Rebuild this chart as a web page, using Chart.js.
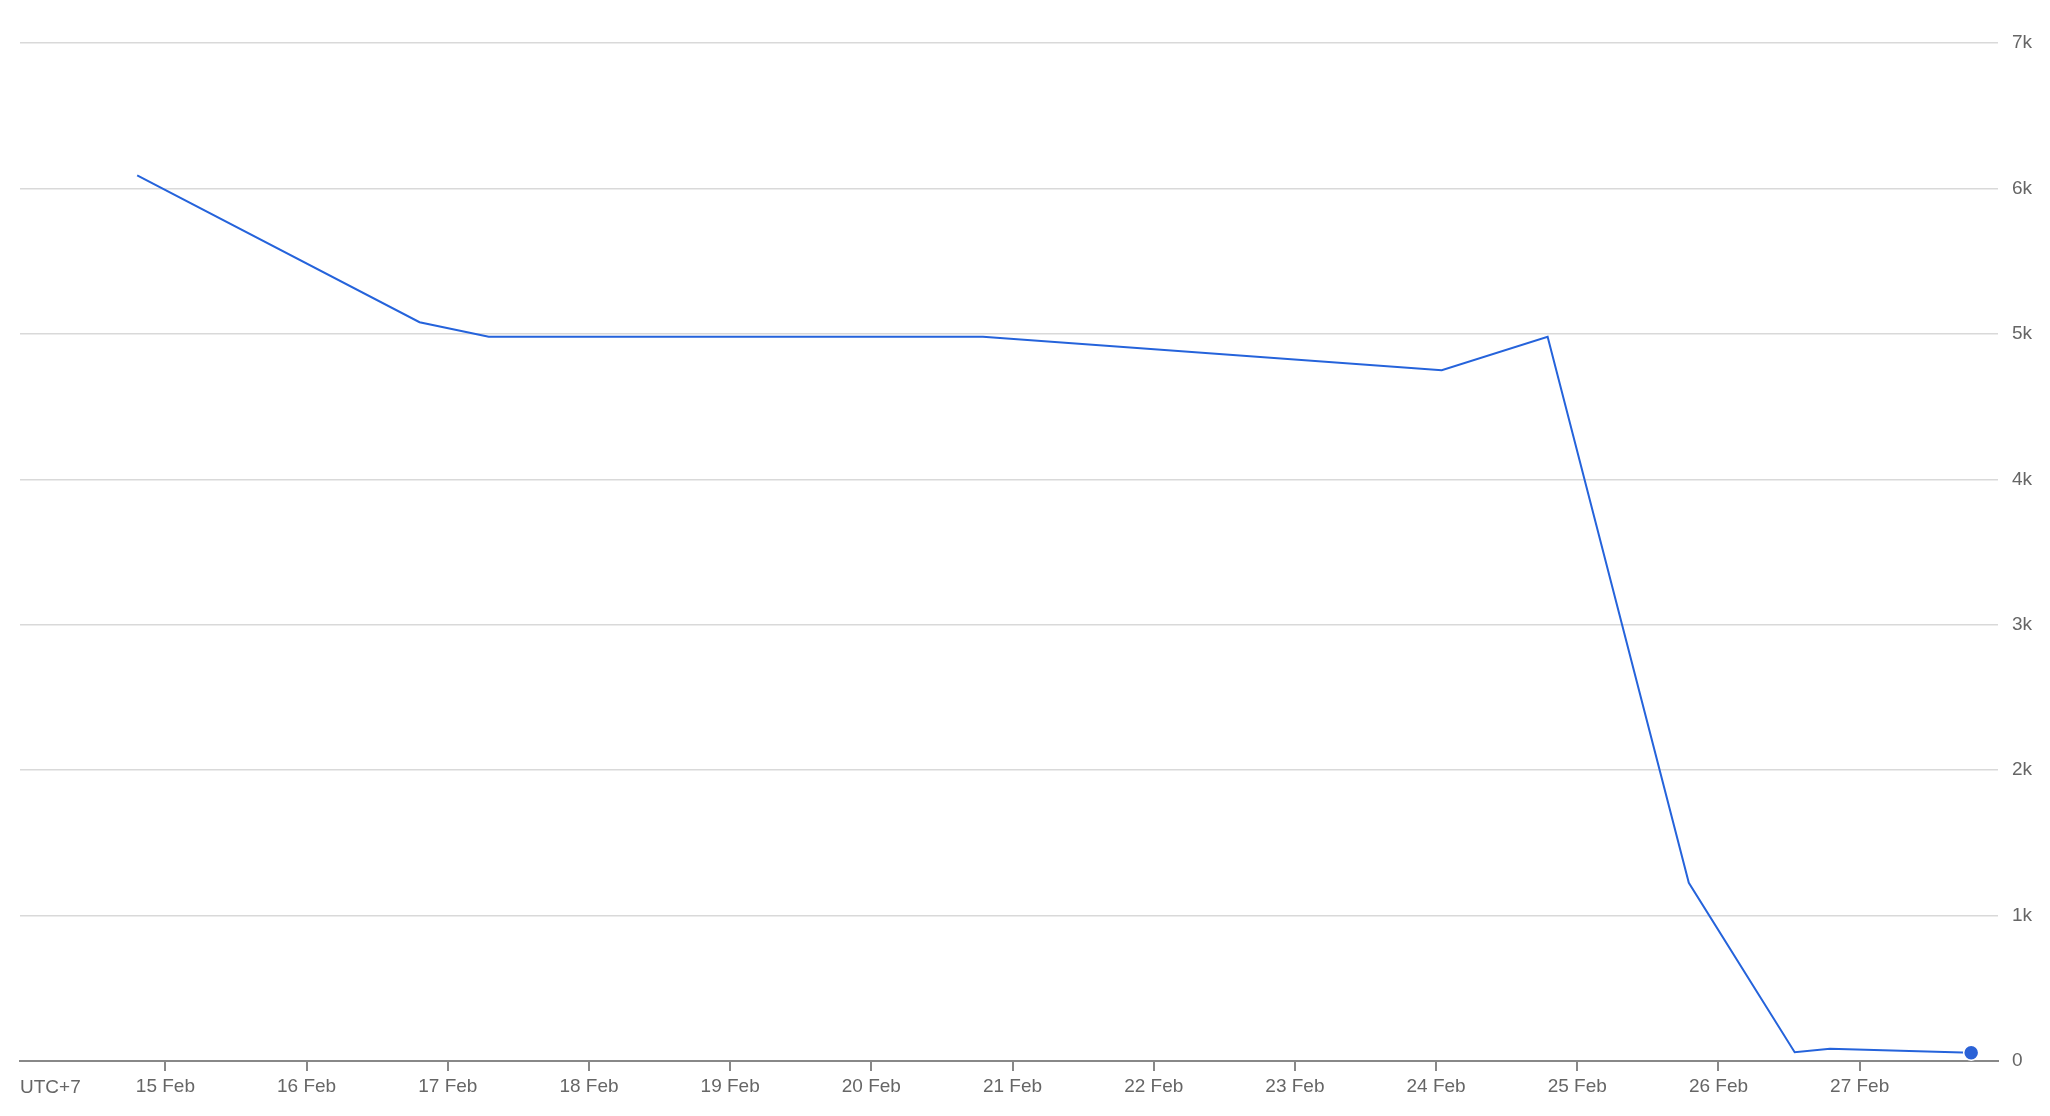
<!DOCTYPE html>
<html>
<head>
<meta charset="utf-8">
<script src="https://cdn.jsdelivr.net/npm/chart.js@4"></script>
<style>
  html, body { margin: 0; padding: 0; background: #fff; }
  #wrap { width: 2050px; height: 1116px; position: relative; }
</style>
</head>
<body>
<div id="wrap"><canvas id="priceChart"></canvas></div>
<script>
// Data (x = day of February, fractional, UTC+7)
const pointDays = [14.80, 16.80, 17.29, 20.79, 24.04, 24.79, 25.79, 26.54, 26.79, 27.79];
const pointValues = [6090, 5080, 4980, 4980, 4750, 4980, 1225, 60, 85, 57];
const tickDays = [15, 16, 17, 18, 19, 20, 21, 22, 23, 24, 25, 26, 27];
const monthLabel = "Feb";
const zoneLabel = "UTC+7";

const textColor = "#666";
const fontSpec = { family: "'Liberation Sans', Arial, sans-serif", size: 19 };

// Draw the time zone label under the left end of the x axis
const zoneLabelPlugin = {
  id: "zoneLabel",
  afterDraw(chart) {
    const ctx = chart.ctx;
    const area = chart.chartArea;
    ctx.save();
    ctx.font = `${fontSpec.size}px ${fontSpec.family}`;
    ctx.fillStyle = textColor;
    ctx.textAlign = "left";
    ctx.textBaseline = "alphabetic";
    ctx.fillText(zoneLabel, area.left, area.bottom + 32);
    ctx.restore();
  }
};

const ctx = document.getElementById("priceChart").getContext("2d");
new Chart(ctx, {
  type: "line",
  data: {
    datasets: [{
      data: pointDays.map((d, i) => ({ x: d, y: pointValues[i] })),
      borderColor: "#2563db",
      borderWidth: 2,
      tension: 0,
      fill: false,
      pointRadius: pointDays.map((d, i) => i === pointDays.length - 1 ? 7.5 : 0),
      pointBackgroundColor: "#2b62d6",
      pointBorderColor: "#ffffff",
      pointBorderWidth: 1.5,
      clip: false
    }]
  },
  options: {
    responsive: true,
    maintainAspectRatio: false,
    animation: false,
    layout: { padding: { top: 43, left: 20, right: 0, bottom: 0 } },
    plugins: {
      legend: { display: false },
      tooltip: { enabled: false }
    },
    scales: {
      x: {
        type: "linear",
        min: 13.97,
        max: 27.98,
        afterBuildTicks: scale => { scale.ticks = tickDays.map(v => ({ value: v })); },
        afterFit: scale => { scale.height = 55; },
        grid: { drawOnChartArea: false, drawTicks: true, tickLength: 10, color: "#888", lineWidth: 2 },
        border: { display: true, color: "#888", width: 2 },
        ticks: {
          autoSkip: false,
          maxRotation: 0,
          padding: 4,
          color: textColor,
          font: fontSpec,
          callback: v => `${v} ${monthLabel}`
        }
      },
      y: {
        position: "right",
        min: 0,
        max: 7000,
        afterFit: scale => { scale.width = 52; },
        grid: { color: "#d9d9d9", lineWidth: 1.5, drawTicks: false },
        border: { display: false },
        ticks: {
          stepSize: 1000,
          padding: 14,
          color: textColor,
          font: fontSpec,
          callback: v => v === 0 ? "0" : `${v / 1000}k`
        }
      }
    }
  },
  plugins: [zoneLabelPlugin]
});
</script>
</body>
</html>
